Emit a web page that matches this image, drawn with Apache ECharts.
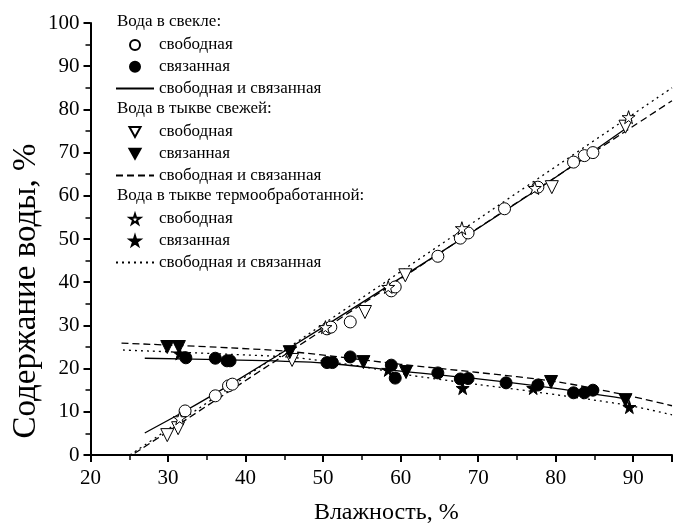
<!DOCTYPE html>
<html>
<head>
<meta charset="utf-8">
<script src="https://cdn.jsdelivr.net/npm/echarts@6/dist/echarts.min.js"></script>
<style>
  html, body { margin: 0; padding: 0; background: #fff; }
  #chart { width: 674px; height: 523px; }
</style>
</head>
<body>
<div id="chart"></div>
<script>
// Вода в свекле
var beetFreeX  = [32.2, 36.1, 37.8, 38.3, 50.5, 51.0, 53.5, 58.8, 59.3, 64.8, 67.7, 68.7, 73.4, 77.7, 82.3, 83.7, 84.8];
var beetFreeY  = [10.2, 13.7, 16.0, 16.4, 29.2, 29.6, 30.8, 38.0, 38.9, 46.0, 50.2, 51.4, 57.0, 62.0, 67.8, 69.3, 70.0];
var beetBoundX = [32.3, 36.1, 37.6, 38.0, 50.5, 51.2, 53.5, 58.8, 59.3, 64.8, 67.7, 68.7, 73.6, 77.7, 82.3, 83.7, 84.8];
var beetBoundY = [22.5, 22.4, 21.8, 21.8, 21.4, 21.4, 22.7, 20.8, 17.8, 19.0, 17.6, 17.7, 16.7, 16.2, 14.4, 14.4, 15.0];
// Вода в тыкве свежей
var freshFreeX  = [29.9, 31.3, 46.0, 55.4, 60.6, 79.5, 89.0];
var freshFreeY  = [4.6, 6.2, 22.0, 33.1, 41.6, 62.0, 76.0];
var freshBoundX = [29.9, 31.4, 45.7, 55.2, 60.7, 79.4, 89.0];
var freshBoundY = [25.0, 25.0, 23.8, 21.5, 19.2, 16.9, 12.7];
// Вода в тыкве термообработанной
var thermFreeX  = [31.5, 50.3, 58.4, 67.9, 77.3, 89.4];
var thermFreeY  = [8.5, 29.6, 38.9, 52.5, 61.8, 78.2];
var thermBoundX = [31.5, 58.4, 68.0, 77.1, 89.5];
var thermBoundY = [23.5, 19.7, 15.5, 15.5, 11.1];

// аппроксимирующие линии (свободная и связанная)
var beetUpX   = [27, 32, 38, 50, 60, 70, 80, 89];
var beetUpY   = [5.1, 10.0, 16.3, 29.6, 41.0, 52.5, 64.3, 75.5];
var beetDownX = [27, 38, 50, 60, 70, 80, 89];
var beetDownY = [22.4, 22.0, 21.3, 19.4, 17.6, 15.4, 13.0];
var freshUpX   = [25.7, 95];
var freshUpY   = [0.4, 82.0];
var freshDownX = [24, 38, 46, 60, 70, 80, 89, 95];
var freshDownY = [25.9, 24.8, 23.9, 21.0, 19.1, 17.0, 13.9, 11.4];
var thermUpX   = [25.1, 95];
var thermUpY   = [0, 85.0];
var thermDownX = [24.2, 38, 46, 55, 60, 70, 77, 89, 95];
var thermDownY = [24.3, 23.3, 22.6, 20.5, 18.8, 16.3, 14.7, 11.6, 9.3];

var groupTitles = ['Вода в свекле:', 'Вода в тыкве свежей:', 'Вода в тыкве термообработанной:'];
var itemLabels = {
  beetFree: 'свободная', beetBound: 'связанная', beetFit: 'свободная и связанная',
  freshFree: 'свободная', freshBound: 'связанная', freshFit: 'свободная и связанная',
  thermFree: 'свободная', thermBound: 'связанная', thermFit: 'свободная и связанная'
};

var FONT = 'Liberation Serif';
var starPath = 'path://M50,0 L61,35 L98,35 L68,57 L79,91 L50,70 L21,91 L32,57 L2,35 L39,35 Z';
var triDownPath = 'path://M0,0 L100,0 L50,90 Z';

function pairs(xs, ys) {
  return xs.map(function (x, i) { return [x, ys[i]]; });
}

function scatter(name, xs, ys, symbol, size, filled) {
  return {
    name: name,
    type: 'scatter',
    data: pairs(xs, ys),
    symbol: symbol,
    symbolSize: size,
    itemStyle: {
      color: filled ? '#000' : '#fff',
      borderColor: '#000',
      borderWidth: 1,
      opacity: 1
    },
    z: 3
  };
}

function fitLine(name, xs, ys, type) {
  return {
    name: name,
    type: 'line',
    data: pairs(xs, ys),
    symbol: 'none',
    smooth: 0.3,
    lineStyle: { color: '#000', width: 1.3, type: type },
    itemStyle: { color: '#000' },
    z: 2
  };
}

// в легенде у линий не нужен кружок
function legendItems(names) {
  return names.map(function (n) {
    if (/Fit$/.test(n)) {
      return { name: n, itemStyle: { color: 'rgba(0,0,0,0)', borderWidth: 0 } };
    }
    return { name: n };
  });
}

function makeLegend(top, names) {
  return {
    orient: 'vertical',
    left: 115,
    top: top,
    padding: 0,
    itemWidth: 38,
    itemHeight: 10,
    itemGap: 1.7,
    data: legendItems(names),
    selectedMode: false,
    formatter: function (n) { return itemLabels[n]; },
    textStyle: { fontFamily: FONT, fontSize: 17, color: '#000', lineHeight: 20 }
  };
}

var chart = echarts.init(document.getElementById('chart'));

var option = {
  backgroundColor: '#fff',
  animation: false,
  grid: { left: 90.5, right: 2, top: 23, bottom: 68, outerBoundsMode: 'none' },
  xAxis: {
    type: 'value',
    min: 20,
    max: 95,
    interval: 10,
    name: 'Влажность, %',
    nameLocation: 'middle',
    nameGap: 46,
    nameTextStyle: { fontFamily: FONT, fontSize: 24, color: '#000', padding: [0, 0, 0, 10] },
    axisLine: { lineStyle: { color: '#000', width: 2 } },
    axisTick: { inside: false, length: 7, lineStyle: { color: '#000', width: 2 } },
    minorTick: { show: true, splitNumber: 2, length: 5, lineStyle: { color: '#000', width: 1.5 } },
    axisLabel: { showMaxLabel: false, margin: 13, fontFamily: FONT, fontSize: 21, color: '#000' },
    splitLine: { show: false }
  },
  yAxis: {
    type: 'value',
    min: 0,
    max: 100,
    interval: 10,
    name: 'Содержание воды, %',
    nameLocation: 'middle',
    nameGap: 48,
    nameMoveOverlap: false,
    nameTextStyle: { fontFamily: FONT, fontSize: 33, color: '#000', padding: [0, 104, 0, 0] },
    axisLine: { show: true, lineStyle: { color: '#000', width: 2 } },
    axisTick: { show: true, inside: false, length: 7, lineStyle: { color: '#000', width: 2 } },
    minorTick: { show: true, splitNumber: 2, length: 5, lineStyle: { color: '#000', width: 1.5 } },
    axisLabel: { margin: 11, fontFamily: FONT, fontSize: 21, color: '#000' },
    splitLine: { show: false }
  },
  legend: [
    makeLegend(35, ['beetFree', 'beetBound', 'beetFit']),
    makeLegend(122, ['freshFree', 'freshBound', 'freshFit']),
    makeLegend(209, ['thermFree', 'thermBound', 'thermFit'])
  ],
  graphic: groupTitles.map(function (t, i) {
    return {
      type: 'text',
      left: 117,
      top: 13 + i * 87,
      style: { text: t, fontFamily: FONT, fontSize: 17, fill: '#000' }
    };
  }),
  series: [
    fitLine('beetFit', beetUpX, beetUpY, 'solid'),
    fitLine('beetFit2', beetDownX, beetDownY, 'solid'),
    fitLine('freshFit', freshUpX, freshUpY, [7, 4]),
    fitLine('freshFit2', freshDownX, freshDownY, [7, 4]),
    fitLine('thermFit', thermUpX, thermUpY, [2, 4]),
    fitLine('thermFit2', thermDownX, thermDownY, [2, 4]),
    scatter('beetFree', beetFreeX, beetFreeY, 'circle', 12, false),
    scatter('beetBound', beetBoundX, beetBoundY, 'circle', 12, true),
    scatter('freshFree', freshFreeX, freshFreeY, triDownPath, 13, false),
    scatter('freshBound', freshBoundX, freshBoundY, triDownPath, 13, true),
    scatter('thermFree', thermFreeX, thermFreeY, starPath, 13, false),
    scatter('thermBound', thermBoundX, thermBoundY, starPath, 13, true)
  ]
};

chart.setOption(option);

window.addEventListener('resize', function () {
  chart.resize();
});
</script>
</body>
</html>
